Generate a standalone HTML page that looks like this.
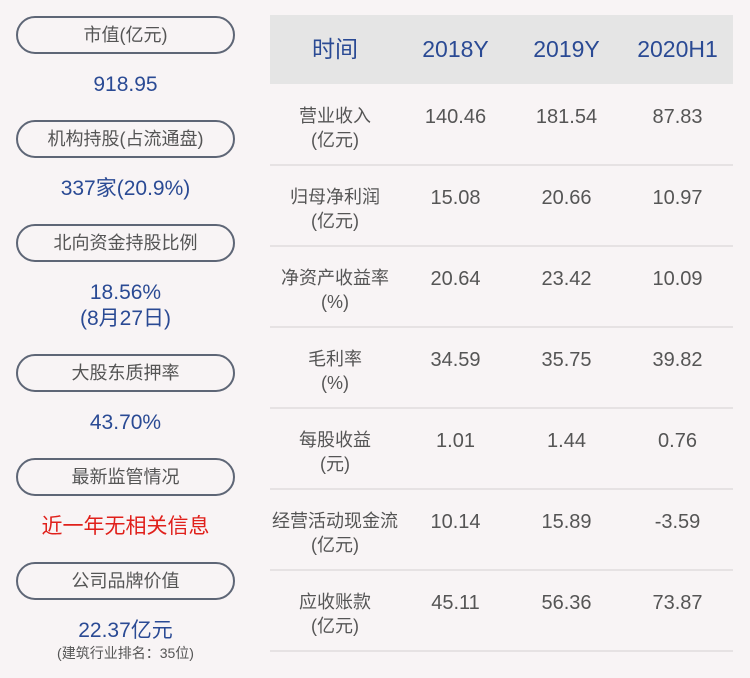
<!DOCTYPE html>
<html><head><meta charset="utf-8"><style>
body{margin:0;width:750px;height:678px;background:#f8f4f5;position:relative;overflow:hidden;font-family:"Liberation Sans","Noto Sans CJK SC",sans-serif}
.p{position:absolute;left:16px;width:215px;height:34px;border:2px solid #5e6676;border-radius:19px;text-align:center;line-height:34px;font-size:18px;color:#555}
.v{position:absolute;left:16px;width:219px;text-align:center;font-size:21px;color:#2a4a94;line-height:26px}
.h{position:absolute;left:270px;top:15px;width:463px;height:69px;background:#e5e5e5}
.t{position:absolute;text-align:center;color:#555}
.hd{position:absolute;top:15px;height:69px;line-height:69px;text-align:center;font-size:23px;color:#2a4a94}
.line{position:absolute;left:270px;width:463px;height:2px;background:#e6e2e3}
</style></head><body>
<div class="p" style="top:16px">市值(亿元)</div>
<div class="v" style="top:72px">918.95</div>
<div class="p" style="top:120px">机构持股(占流通盘)</div>
<div class="v" style="top:176px">337家(20.9%)</div>
<div class="p" style="top:224px">北向资金持股比例</div>
<div class="v" style="top:280px">18.56%<br>(8月27日)</div>
<div class="p" style="top:354px">大股东质押率</div>
<div class="v" style="top:410px">43.70%</div>
<div class="p" style="top:458px">最新监管情况</div>
<div class="v" style="top:514px;color:#e0201b">近一年无相关信息</div>
<div class="p" style="top:562px">公司品牌价值</div>
<div class="v" style="top:618px">22.37亿元</div>
<div class="v" style="top:644px;font-size:14px;line-height:18px;color:#555">(建筑行业排名：35位)</div>
<div class="h"></div>
<div class="hd" style="left:270px;width:130px">时间</div>
<div class="hd" style="left:400px;width:111px">2018Y</div>
<div class="hd" style="left:511px;width:111px">2019Y</div>
<div class="hd" style="left:622px;width:111px">2020H1</div>
<div id="rows"></div>
<script>
var d=[["营业收入","(亿元)","140.46","181.54","87.83"],["归母净利润","(亿元)","15.08","20.66","10.97"],["净资产收益率","(%)","20.64","23.42","10.09"],["毛利率","(%)","34.59","35.75","39.82"],["每股收益","(元)","1.01","1.44","0.76"],["经营活动现金流","(亿元)","10.14","15.89","-3.59"],["应收账款","(亿元)","45.11","56.36","73.87"]];
var h="";d.forEach(function(r,i){var y=84+81*i;
h+='<div class="t" style="left:270px;width:130px;top:'+(y+20)+'px;font-size:18px;line-height:24px">'+r[0]+'<br>'+r[1]+'</div>';
[400,511,622].forEach(function(x,j){h+='<div class="t" style="left:'+x+'px;width:111px;top:'+(y+21)+'px;font-size:20px;line-height:24px">'+r[j+2]+'</div>'});
h+='<div class="line" style="top:'+(y+80)+'px"></div>';});
document.getElementById("rows").innerHTML=h;
</script>
</body></html>
